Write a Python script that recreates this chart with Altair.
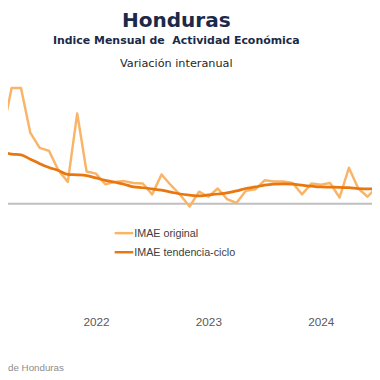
import altair as alt
import pandas as pd

# Months (March 2021 .. July 2024)
months = pd.period_range("2021-03", "2024-07", freq="M").strftime("%Y-%m").tolist()

# IMAE year-on-year variation (%)
imae_original = [17.75, 29.6, 29.6, 18.1, 14.3, 13.5, 8.5, 5.6, 23.1, 8.25, 7.7, 5.0,
                 5.6, 5.8, 5.3, 5.2, 2.4, 7.5, 4.75, 2.25, -0.7, 3.1, 1.8, 3.9,
                 1.2, 0.2, 3.3, 3.7, 6.0, 5.7, 5.7, 5.3, 2.4, 5.2, 4.9, 5.3,
                 1.6, 9.2, 3.9, 1.8, 4.4]
imae_trend = [13.25, 12.7, 12.5, 11.4, 10.25, 9.25, 8.5, 7.5, 7.4, 7.2, 6.6, 6.0,
              5.5, 5.0, 4.3, 4.1, 3.8, 3.5, 3.0, 2.5, 2.2, 2.0, 2.25, 2.5,
              2.8, 3.3, 3.9, 4.3, 4.75, 5.0, 5.1, 5.0, 4.75, 4.5, 4.3, 4.25,
              4.2, 4.1, 3.9, 3.8, 3.8]

series_names = ["IMAE original", "IMAE tendencia-ciclo"]
series_colors = ["#F9B467", "#E8770F"]
year_tick_months = ["2022-01", "2023-01", "2024-01"]

idx = {m: i for i, m in enumerate(months)}
df_orig = pd.DataFrame({"m": [idx[m] for m in months], "v": imae_original})
df_trend = pd.DataFrame({"m": [idx[m] for m in months], "v": imae_trend})

x = alt.X(
    "m:Q",
    scale=alt.Scale(domain=[0.6136, 39.4648], nice=False, zero=False),
    axis=alt.Axis(
        values=[idx[m] for m in year_tick_months],
        labelExpr="'' + (2021 + floor((datum.value + 2) / 12))",
        domain=False, ticks=False, grid=False,
        labelPadding=1,
        labelFont="Liberation Sans", labelFontSize=12, labelColor="#595959",
        title=None,
    ),
)
y = alt.Y("v:Q", scale=alt.Scale(domain=[-28.5, 49], nice=False, zero=False), axis=None)

zero = alt.Chart(pd.DataFrame({"v": [0]})).mark_rule(color="#BFBFBF", strokeWidth=2).encode(y=y)

orig = alt.Chart(df_orig).mark_line(strokeWidth=2.5, clip=True, strokeJoin="round",
                                    color=series_colors[0]).encode(x=x, y=y)
trend = alt.Chart(df_trend).mark_line(strokeWidth=2.8, clip=True, interpolate="monotone",
                                      strokeJoin="round", color=series_colors[1]).encode(x=x, y=y)


def label(txt, xpos, ypos, **kw):
    return alt.Chart(pd.DataFrame({"t": [txt]})).mark_text(baseline="alphabetic", **kw).encode(
        text="t:N", x=alt.value(xpos), y=alt.value(ypos))


def key(col, ypos):
    return alt.Chart(pd.DataFrame({"k": [0]})).mark_rule(color=col, strokeWidth=2.5).encode(
        x=alt.value(109), x2=alt.value(128), y=alt.value(ypos))


t1 = label("Honduras", 172, 15.5, align="center", font="DejaVu Sans", fontSize=20.5,
           fontWeight="bold", color="#1B2A48")
t2 = label("Indice Mensual de\u00a0 Actividad Económica", 172, 33, align="center",
           font="DejaVu Sans", fontSize=11.2, fontWeight="bold", color="#1B2A48")
t3 = label("Variación interanual", 172, 56.3, align="center", font="DejaVu Sans",
           fontSize=11.5, color="#262626")
src = label("de Honduras", 0, 367, align="left", font="Liberation Sans", fontSize=10,
            color="#8C8C8C")
k1 = key(series_colors[0], 226)
k2 = key(series_colors[1], 245.5)
l1 = label(series_names[0], 129, 229.5, align="left", font="Liberation Sans", fontSize=11,
           color="#404040")
l2 = label(series_names[1], 129, 249, align="left", font="Liberation Sans", fontSize=11,
           color="#404040")

chart = alt.layer(zero, orig, trend, t1, t2, t3, src, k1, k2, l1, l2).properties(
    width=372, height=310,
    padding={"left": 0, "top": 0, "right": 0, "bottom": 62},
    autosize=alt.AutoSizeParams(type="none"),
).configure_view(stroke=None)

chart.save("out.html", embed_options={"renderer": "svg", "actions": False})
